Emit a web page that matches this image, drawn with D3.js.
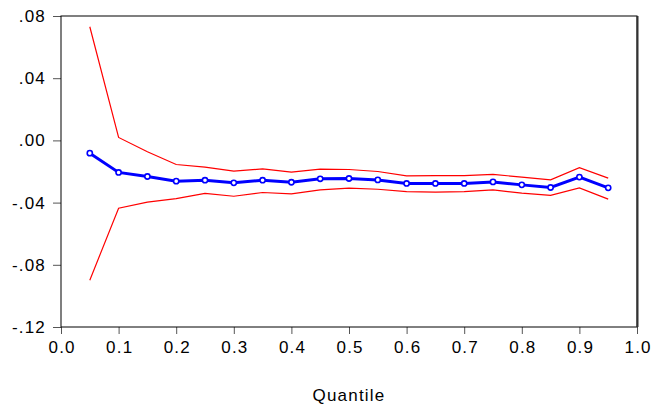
<!DOCTYPE html>
<html>
<head>
<meta charset="utf-8">
<script src="https://cdn.jsdelivr.net/npm/d3@7"></script>
<style>
  body { margin: 0; background: #fff; }
  text { font-family: "Liberation Sans", Arial, sans-serif; }
</style>
</head>
<body>
<svg id="chart" width="653" height="410"></svg>
<script>
// quantile estimates with upper / lower bands
const quantiles = [0.05, 0.10, 0.15, 0.20, 0.25, 0.30, 0.35, 0.40, 0.45, 0.50,
                   0.55, 0.60, 0.65, 0.70, 0.75, 0.80, 0.85, 0.90, 0.95];
const estimate = [-0.0082, -0.0206, -0.0232, -0.0262, -0.0256, -0.0273, -0.0256, -0.0269, -0.0247, -0.0245,
                  -0.0254, -0.0277, -0.0277, -0.0277, -0.0267, -0.0286, -0.0303, -0.0236, -0.0305];
const upper = [0.0731, 0.0019, -0.0073, -0.0155, -0.0172, -0.0198, -0.0183, -0.0204, -0.0185, -0.0187,
               -0.0200, -0.0228, -0.0226, -0.0226, -0.0219, -0.0236, -0.0254, -0.0176, -0.0243];
const lower = [-0.0899, -0.0436, -0.0397, -0.0374, -0.0341, -0.0359, -0.0335, -0.0344, -0.0318, -0.0307,
               -0.0314, -0.0329, -0.0333, -0.0329, -0.0318, -0.0339, -0.0354, -0.0305, -0.0378];
const xTicks = [0, 0.1, 0.2, 0.3, 0.4, 0.5, 0.6, 0.7, 0.8, 0.9, 1.0];
const yTicks = [0.08, 0.04, 0.00, -0.04, -0.08, -0.12];

const svg = d3.select("#chart");
const plotL = 61, plotR = 637, plotT = 16, plotB = 327;

const x = d3.scaleLinear().domain([0, 1]).range([plotL, plotR]);
const y = d3.scaleLinear().domain([-0.12, 0.08]).range([plotB, plotT]);

// eviews style: ".08", "-.04" with plain hyphen
const yFmt = d => (d < 0 ? "-" : "") + Math.abs(d).toFixed(2).replace(/^0/, "");

// y axis
const yAxis = svg.append("g")
    .attr("transform", `translate(${plotL},0)`)
    .call(d3.axisLeft(y).tickValues(yTicks).tickSize(8).tickPadding(7)
        .tickFormat(yFmt));
// x axis
const xAxis = svg.append("g")
    .attr("transform", `translate(0,${plotB})`)
    .call(d3.axisBottom(x).tickValues(xTicks).tickSize(7).tickPadding(7)
        .tickFormat(d => d.toFixed(1)));

[yAxis, xAxis].forEach(g => {
    g.select(".domain").remove();
    g.selectAll("line").attr("stroke", "#555");
    g.selectAll("text").attr("font-size", 17).attr("fill", "#000")
        .attr("letter-spacing", 1.2)
        .attr("font-family", "'Liberation Sans', Arial, sans-serif");
});
xAxis.selectAll("text").attr("dx", 0.6);

// frame
svg.append("rect")
    .attr("x", plotL).attr("y", plotT)
    .attr("width", plotR - plotL).attr("height", plotB - plotT)
    .attr("fill", "none").attr("stroke", "#000").attr("stroke-width", 1);
svg.append("line")
    .attr("x1", plotR + 0.5).attr("x2", plotR + 0.5)
    .attr("y1", plotT).attr("y2", plotB)
    .attr("stroke", "#333").attr("stroke-width", 2);

const line = vals => d3.line()
    .x((d, i) => x(quantiles[i]))
    .y(d => y(d))(vals);

svg.append("path").attr("d", line(upper))
    .attr("fill", "none").attr("stroke", "#ff0000").attr("stroke-width", 1.2);
svg.append("path").attr("d", line(lower))
    .attr("fill", "none").attr("stroke", "#ff0000").attr("stroke-width", 1.2);
svg.append("path").attr("d", line(estimate))
    .attr("fill", "none").attr("stroke", "#0000ff").attr("stroke-width", 3);

svg.selectAll(".pt")
    .data(estimate)
    .enter().append("circle")
    .attr("class", "pt")
    .attr("cx", (d, i) => x(quantiles[i]))
    .attr("cy", d => y(d))
    .attr("r", 2.6)
    .attr("fill", "#fff")
    .attr("stroke", "#0000ff")
    .attr("stroke-width", 1.6);

svg.append("text")
    .attr("x", 349).attr("y", 401)
    .attr("text-anchor", "middle")
    .attr("font-size", 17)
    .attr("letter-spacing", 1.2)
    .text("Quantile");
</script>
</body>
</html>
